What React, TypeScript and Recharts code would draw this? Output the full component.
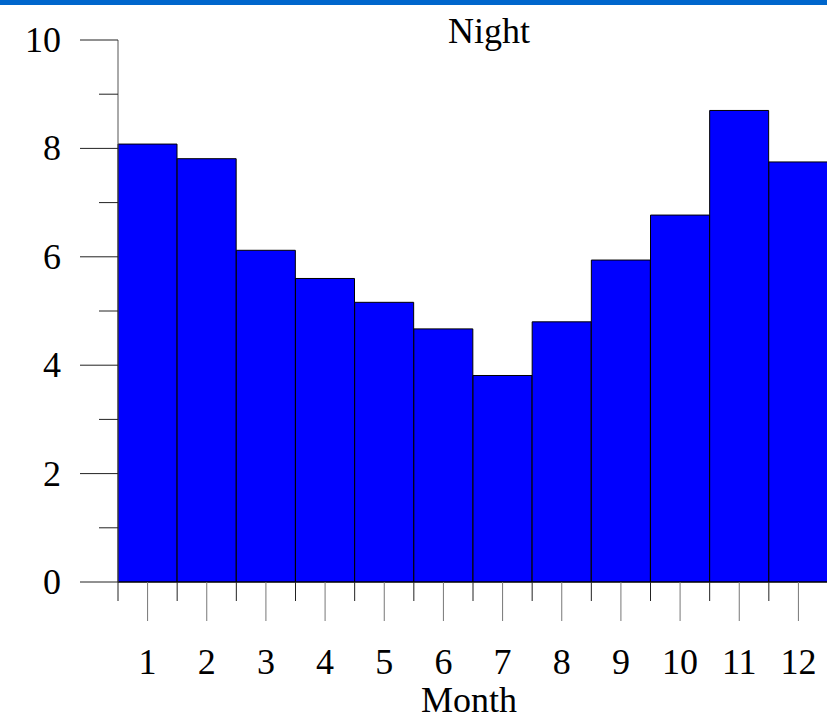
import { BarChart, Bar, XAxis, YAxis, Customized } from "recharts";

const months = ["1", "2", "3", "4", "5", "6", "7", "8", "9", "10", "11", "12"];
const nightValues = [8.08, 7.81, 6.12, 5.6, 5.16, 4.67, 3.81, 4.8, 5.94, 6.77, 8.7, 7.75];
const yTicks = [0, 1, 2, 3, 4, 5, 6, 7, 8, 9, 10];

const data = months.map((m, i) => ({ month: m, value: nightValues[i] }));

const FONT = "'Liberation Serif', 'Times New Roman', serif";
const CHART_W = 840;
const CHART_H = 720;
const MARGIN = { top: 40, right: 12, left: 0, bottom: 0 };
const Y_AXIS_W = 118;
const PLOT_W = CHART_W - MARGIN.left - MARGIN.right - Y_AXIS_W;
const BAND = PLOT_W / months.length;

function YTick(props: any) {
  const { x, y, payload } = props;
  const major = payload.value % 2 === 0;
  return (
    <g>
      <line x1={x - (major ? 38 : 19)} x2={x} y1={y} y2={y} stroke="#222" strokeWidth={1} />
      {major && (
        <text x={x - 57} y={y + 12} textAnchor="end" fontSize={36} fontFamily={FONT} fill="#000">
          {payload.value}
        </text>
      )}
    </g>
  );
}

function XTick(props: any) {
  const { x, y, payload, index } = props;
  const last = index === months.length - 1;
  return (
    <g>
      <line x1={x - BAND / 2} x2={x - BAND / 2} y1={y} y2={y + 19} stroke="#222" strokeWidth={1} />
      {last && (
        <line x1={x + BAND / 2} x2={x + BAND / 2} y1={y} y2={y + 19} stroke="#222" strokeWidth={1} />
      )}
      <line x1={x} x2={x} y1={y} y2={y + 39} stroke="#777" strokeWidth={1} />
      <text x={x} y={y + 92} textAnchor="middle" fontSize={36} fontFamily={FONT} fill="#000">
        {payload.value}
      </text>
    </g>
  );
}

function Titles() {
  return (
    <g fontFamily={FONT} fontSize={36} fill="#000">
      <text x={489} y={43} textAnchor="middle">
        Night
      </text>
      <text x={469} y={712} textAnchor="middle">
        Month
      </text>
    </g>
  );
}

export default function App() {
  return (
    <div
      style={{
        position: "absolute",
        top: 0,
        left: 0,
        width: 827,
        height: 720,
        overflow: "hidden",
        background: "#fff",
      }}
    >
      <div style={{ position: "absolute", top: 0, left: 0, width: 827, height: 5, background: "#0066cc" }} />
      <BarChart width={CHART_W} height={CHART_H} data={data} margin={MARGIN} barCategoryGap={0}>
        <XAxis
          dataKey="month"
          height={138}
          tickLine={false}
          tickSize={0}
          tickMargin={0}
          axisLine={{ stroke: "#000" }}
          tick={<XTick />}
          interval={0}
        />
        <YAxis
          width={Y_AXIS_W}
          domain={[0, 10]}
          ticks={yTicks}
          interval={0}
          tickLine={false}
          tickSize={0}
          tickMargin={0}
          axisLine={{ stroke: "#555" }}
          tick={<YTick />}
        />
        <Bar dataKey="value" fill="#0000ff" stroke="#000" strokeWidth={1} isAnimationActive={false} />
        <Customized component={Titles} />
      </BarChart>
    </div>
  );
}
